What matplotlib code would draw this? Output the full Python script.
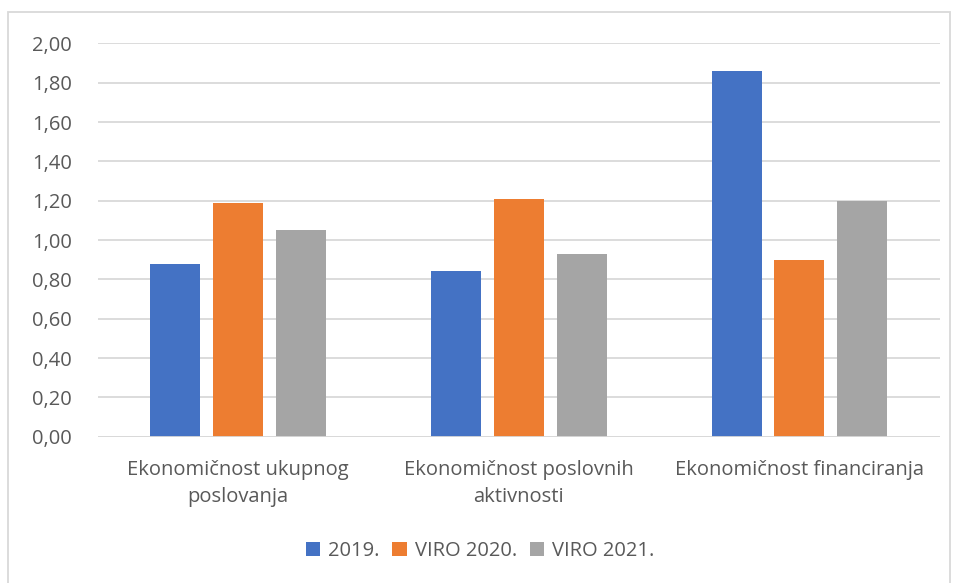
import numpy as np
import matplotlib.pyplot as plt
from matplotlib.patches import Rectangle
from matplotlib.ticker import FuncFormatter

plt.rcParams['font.family'] = ['Open Sans', 'DejaVu Sans']

categories = ['Ekonomičnost ukupnog\nposlovanja',
              'Ekonomičnost poslovnih\naktivnosti',
              'Ekonomičnost financiranja']
series_names = ['2019.', 'VIRO 2020.', 'VIRO 2021.']
values_2019 = [0.88, 0.84, 1.86]
values_2020 = [1.19, 1.21, 0.90]
values_2021 = [1.05, 0.93, 1.20]
colors = ['#4472C4', '#ED7D31', '#A5A5A5']

text_color = '#595959'
grid_color = '#D9D9D9'

fig = plt.figure(figsize=(9.55, 5.83), dpi=100)
ax = fig.add_axes([0.1026, 0.251, 0.8814, 0.6746])

x = np.arange(len(categories))
width = 0.178
step = 0.224
for i, (vals, name, c) in enumerate(zip([values_2019, values_2020, values_2021], series_names, colors)):
    ax.bar(x + (i - 1) * step, vals, width, color=c, label=name, zorder=3)

ax.set_xlim(-0.5, 2.5)
ax.set_ylim(0, 2.0)
ax.set_yticks(np.arange(0, 2.01, 0.2))
ax.yaxis.set_major_formatter(FuncFormatter(lambda v, p: f'{v:.2f}'.replace('.', ',')))
ax.grid(axis='y', color=grid_color, linewidth=1.3, zorder=0)
for s in ax.spines.values():
    s.set_visible(False)
ax.axhline(0, color=grid_color, linewidth=1.3, zorder=4)

ax.set_xticks(x)
ax.set_xticklabels(categories, fontsize=14.5, color=text_color, linespacing=1.45)
ax.tick_params(axis='x', length=0, pad=17)
ax.tick_params(axis='y', length=0, pad=19, labelsize=14.5, labelcolor=text_color)

ax.legend(loc='center', bbox_to_anchor=(0.454, -0.29), ncol=3, frameon=False,
          fontsize=14.5, labelcolor=text_color, handlelength=0.7, handleheight=0.7,
          handletextpad=0.4, columnspacing=0.65)

fig.patches.append(Rectangle((8 / 955, -5 / 583), 942 / 955, 576 / 583, transform=fig.transFigure,
                             fill=False, edgecolor=grid_color, linewidth=1.3))

fig.savefig('out.png', dpi=100)
